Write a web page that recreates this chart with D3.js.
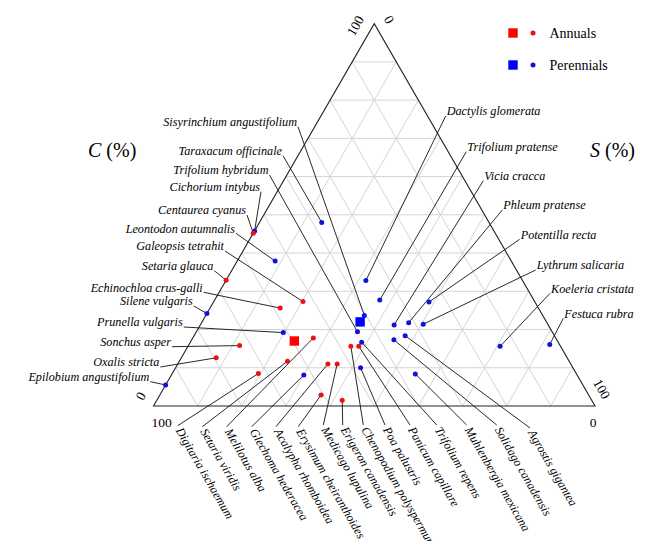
<!DOCTYPE html>
<html><head><meta charset="utf-8">
<script src="https://cdn.jsdelivr.net/npm/d3@7"></script>
<style>body{margin:0;background:#fff;} svg{display:block;} text{font-family:"Liberation Serif","Times New Roman","DejaVu Serif",serif;}</style>
</head><body>
<svg id="chart" width="664" height="541"></svg>
<script>
// ---------------- DATA ----------------
const species = [
  "Sisyrinchium angustifolium","Taraxacum officinale","Trifolium hybridum","Cichorium intybus",
  "Centaurea cyanus","Leontodon autumnalis","Galeopsis tetrahit","Setaria glauca",
  "Echinochloa crus-galli","Silene vulgaris","Prunella vulgaris","Sonchus asper",
  "Oxalis stricta","Epilobium angustifolium",
  "Dactylis glomerata","Trifolium pratense","Vicia cracca","Phleum pratense",
  "Potentilla recta","Lythrum salicaria","Koeleria cristata","Festuca rubra",
  "Digitaria ischaemum","Setaria viridis","Melilotus alba","Glechoma hederacea",
  "Acalypha rhomboidea","Erysimum cheiranthoides","Medicago lupulina","Erigeron canadensis",
  "Chenopodium polyspermum","Poa palustris","Panicum capillare","Trifolium repens",
  "Muhlenbergia mexicana","Solidago canadensis","Agrostis gigantea"
];
const lifeForm = [
  "P","P","P","P","A","P","A","A","A","P","P","A","A","P",
  "P","P","P","P","P","P","P","P",
  "A","A","A","P","A","A","A","A","A","P","A","P","P","P","P"
];
const cPct = [
  23.7,48.0,19.4,45.8,45.2,37.9,27.3,32.9,25.6,24.2,19.2,15.8,12.6,5.5,
  32.8,27.7,21.2,21.8,27.2,21.4,15.6,16.1,
  8.5,11.7,17.8,8.1,11.0,2.9,11.0,1.5,15.6,10.0,15.6,16.7,8.4,17.3,18.4
];
const sPct = [
  35.9,14.1,36.5,0.0,0.0,8.6,20.2,0.0,15.9,0.0,19.8,11.6,7.9,0.0,
  31.7,37.4,43.9,46.9,48.8,50.4,70.7,81.7,
  19.5,24.5,27.3,30.0,34.0,36.5,36.1,42.0,36.9,41.9,38.7,38.8,55.1,45.8,47.8
];
const rPct = cPct.map((c, i) => +(100 - c - sPct[i]).toFixed(1));
const groups = ["Annuals","Perennials"];
const groupKey = ["A","P"];
const meanC = [17.0, 22.0];
const meanS = [23.4, 35.8];
const meanR = [59.6, 42.2];
const axisTitles = ["C", "S"];
const gridSteps = d3.range(10, 100, 10);

// ---------------- LAYOUT ----------------
const labelSide = species.map((_, i) => i < 14 ? "left" : i < 22 ? "right" : "bottom");
const labelAnchor = [
  [297,121.7],[282,150.7],[268.5,170],[260,186.7],[246,210],[235,228.3],[224,246],
  [213.3,265.7],[202.7,287.3],[192.7,301],[182.7,322],[171,341.7],[159.3,362],[149.3,376.7],
  [446.7,111],[467.3,146.7],[484.3,175.7],[503.3,205],[520.7,234.3],[536.7,265],[551,288.3],[564.3,313.3],
  [177.7,425.7],[202.3,426.7],[226.7,426.7],[251.7,426.7],[276,426.7],[298.3,426.7],[323.3,425],
  [342.7,425],[363.3,425],[385,425],[410,425],[436.7,425],[466.7,425],[496.7,425],[530,428]
];
const colors = {A: "#ff0000", P: "#0000ff"};
const dotColors = {A: "#ee1111", P: "#1111dd"};

const leftX = 153.5, baseY = 406, side = 441.5, triH = side * Math.sqrt(3) / 2;
const sScale = d3.scaleLinear().domain([0, 100]).range([0, side]);
const cScale = d3.scaleLinear().domain([0, 100]).range([baseY, baseY - triH]);
function proj(c, s) {
  return [leftX + sScale(s) + sScale(c) / 2, cScale(c)];
}

const svg = d3.select("#chart");

// grid
const gridG = svg.append("g").attr("stroke", "#d4d4d4").attr("stroke-width", 1).attr("fill", "none");
gridSteps.forEach(v => {
  let a = proj(v, 0), b = proj(v, 100 - v);
  gridG.append("line").attr("x1", a[0]).attr("y1", a[1]).attr("x2", b[0]).attr("y2", b[1]);
  a = proj(0, v); b = proj(100 - v, v);
  gridG.append("line").attr("x1", a[0]).attr("y1", a[1]).attr("x2", b[0]).attr("y2", b[1]);
  a = proj(0, 100 - v); b = proj(100 - v, 0);
  gridG.append("line").attr("x1", a[0]).attr("y1", a[1]).attr("x2", b[0]).attr("y2", b[1]);
});

// outline
const verts = [proj(0, 0), proj(100, 0), proj(0, 100)];
svg.append("path")
  .attr("d", "M" + verts.map(p => p.join(",")).join("L") + "Z")
  .attr("fill", "none").attr("stroke", "#222").attr("stroke-width", 1.1);

// leader lines
const pts = species.map((n, i) => proj(cPct[i], sPct[i]));
const leadG = svg.append("g").attr("stroke", "#111").attr("stroke-width", 0.9);
species.forEach((n, i) => {
  const [ax, ay] = labelAnchor[i];
  let sx, sy;
  if (labelSide[i] === "left") { sx = ax + 1; sy = ay + 5; }
  else if (labelSide[i] === "right") { sx = ax - 1; sy = ay + 5; }
  else { sx = ax; sy = ay; }
  leadG.append("line").attr("x1", sx).attr("y1", sy).attr("x2", pts[i][0]).attr("y2", pts[i][1]);
});

// points
svg.append("g").selectAll("circle").data(species).join("circle")
  .attr("cx", (d, i) => pts[i][0]).attr("cy", (d, i) => pts[i][1])
  .attr("r", 2.5).attr("fill", (d, i) => dotColors[lifeForm[i]]);

// mean squares
groups.forEach((g, k) => {
  const p = proj(meanC[k], meanS[k]);
  svg.append("rect").attr("x", p[0] - 4.7).attr("y", p[1] - 4.7)
    .attr("width", 9.4).attr("height", 9.4).attr("fill", colors[groupKey[k]]);
});

// species labels
const labG = svg.append("g").style("font-style", "italic")
  .style("font-size", "12.2px").attr("fill", "#000");
species.forEach((n, i) => {
  const [ax, ay] = labelAnchor[i];
  const t = labG.append("text").text(n);
  if (labelSide[i] === "left") {
    t.attr("x", ax).attr("y", ay).attr("dy", "0.35em").attr("text-anchor", "end");
  } else if (labelSide[i] === "right") {
    t.attr("x", ax).attr("y", ay).attr("dy", "0.35em").attr("text-anchor", "start");
  } else {
    t.attr("transform", `translate(${ax},${ay}) rotate(60)`)
      .attr("x", 3).attr("dy", "0.35em").attr("text-anchor", "start");
  }
});

// axis titles
const titleG = svg.append("g").style("font-size", "20px").attr("fill", "#000");
[[88, 157], [590, 157]].forEach((p, k) => {
  const t = titleG.append("text").attr("x", p[0]).attr("y", p[1]);
  t.append("tspan").style("font-style", "italic").text(axisTitles[k]);
  t.append("tspan").text(" (%)");
});

// tick labels (0 / 100 at ends)
const tickG = svg.append("g").style("font-size", "13.5px").attr("fill", "#000")
  .attr("text-anchor", "middle");
const vTop = verts[1], vBL = verts[0], vBR = verts[2];
const ticks = [
  {t: "100", x: vTop[0] - 19, y: vTop[1] + 2, r: -60},
  {t: "0", x: vTop[0] + 15, y: vTop[1] - 4, r: 60},
  {t: "0", x: vBL[0] - 13, y: vBL[1] - 10, r: -60},
  {t: "100", x: vBL[0] + 8, y: vBL[1] + 16, r: 0},
  {t: "0", x: vBR[0] - 2, y: vBR[1] + 16, r: 0},
  {t: "100", x: vBR[0] + 7, y: vBR[1] - 17, r: 60}
];
ticks.forEach(d => {
  tickG.append("text").attr("transform", `translate(${d.x},${d.y}) rotate(${d.r})`)
    .attr("dy", "0.35em").text(d.t);
});

// legend
const legG = svg.append("g").style("font-size", "14px").attr("fill", "#000");
groups.forEach((g, k) => {
  const y = 33 + k * 32;
  legG.append("rect").attr("x", 508.3).attr("y", y - 4.7).attr("width", 9.4).attr("height", 9.4)
    .attr("fill", colors[groupKey[k]]);
  legG.append("circle").attr("cx", 533).attr("cy", y).attr("r", 2.5).attr("fill", dotColors[groupKey[k]]);
  legG.append("text").attr("x", 549.5).attr("y", y).attr("dy", "0.35em").text(g);
});
</script>
</body></html>
